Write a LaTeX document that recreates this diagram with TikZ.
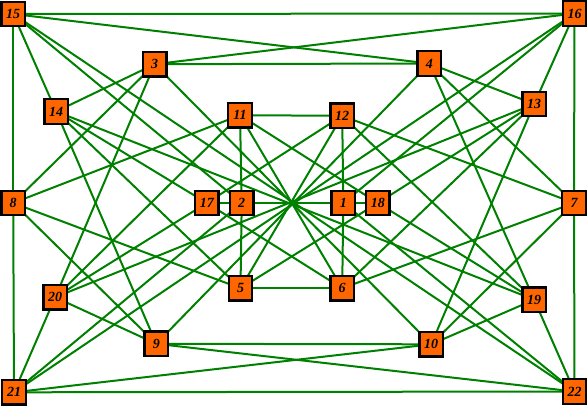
\documentclass[tikz,border=0pt]{standalone}
\usepackage{fontspec}
\setmainfont{Liberation Serif}
\pgfdeclarelayer{bg}
\pgfsetlayers{bg,main}
\definecolor{edgegreen}{RGB}{0,128,0}
\definecolor{boxorange}{RGB}{255,102,0}
\tikzset{
  vbox/.style={draw=black, line width=2.2pt, fill=boxorange, inner sep=0pt,
    minimum width=23.5pt, minimum height=24.5pt,
    font=\fontsize{14}{14}\selectfont\bfseries\itshape},
  edge/.style={draw=edgegreen, line width=2pt}
}
\begin{document}
\begin{tikzpicture}[x=1pt,y=-1pt]
\useasboundingbox (0,0) rectangle (588,406);
\node[vbox] (n15) at (13.2,14) {15};
\node[vbox] (n16) at (574.5,13.5) {16};
\node[vbox] (n3) at (154.7,64.2) {3};
\node[vbox] (n4) at (429.3,63.5) {4};
\node[vbox] (n14) at (56.2,111.5) {14};
\node[vbox] (n13) at (534.2,104) {13};
\node[vbox] (n11) at (240,115.2) {11};
\node[vbox] (n12) at (342.2,115.8) {12};
\node[vbox] (n8) at (13.2,203) {8};
\node[vbox] (n17) at (206.8,203) {17};
\node[vbox] (n2) at (241.7,203) {2};
\node[vbox] (n1) at (343.3,203) {1};
\node[vbox] (n18) at (377.8,203) {18};
\node[vbox] (n7) at (574,203) {7};
\node[vbox] (n20) at (55.2,297.3) {20};
\node[vbox] (n5) at (240.5,288.3) {5};
\node[vbox] (n6) at (342.2,288.3) {6};
\node[vbox] (n19) at (534.2,299.7) {19};
\node[vbox] (n9) at (156.3,343.8) {9};
\node[vbox] (n10) at (431.2,344.3) {10};
\node[vbox] (n21) at (14,392.3) {21};
\node[vbox] (n22) at (574.5,391.5) {22};
\begin{pgfonlayer}{bg}
\foreach \a/\b in {15/16,21/22,15/8,8/21,16/7,7/22,
  15/4,16/3,21/10,22/9,
  15/14,16/13,21/20,22/19,
  15/22,16/21,
  15/2,16/1,21/2,22/1,
  3/4,9/10,
  3/14,4/13,9/20,10/19,
  3/8,4/7,9/8,10/7,
  3/20,4/19,9/14,10/13,
  3/10,4/9,
  14/17,13/18,20/17,19/18,
  14/5,13/6,20/11,19/12,
  14/19,13/20,
  8/11,7/12,8/5,7/6,
  11/12,5/6,
  11/2,12/1,5/2,6/1,
  11/6,12/5,
  17/2,18/1,2/1,
  17/6,18/5,17/12,18/11,
  17/18}
  \draw[edge] (n\a.center) -- (n\b.center);
\end{pgfonlayer}
\end{tikzpicture}
\end{document}
